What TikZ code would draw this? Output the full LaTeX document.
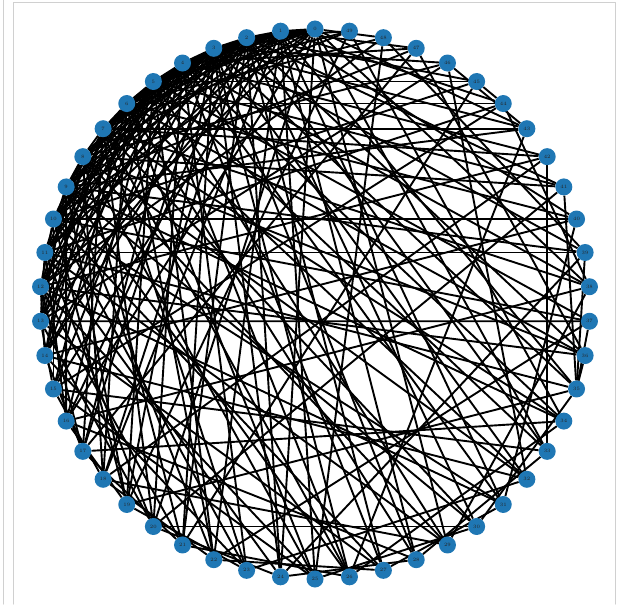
\documentclass[tikz,border=0pt]{standalone}
\usetikzlibrary{backgrounds}
\definecolor{nodeblue}{HTML}{1F77B4}
\definecolor{framegray}{HTML}{D0D0D0}
\tikzset{
  vertex/.style={circle,fill=nodeblue,draw=none,inner sep=0pt,minimum size=17pt,
    font=\fontsize{5}{5}\selectfont,text=black!85},
  edge/.style={line width=1.9pt,black},
  frameline/.style={line width=1pt,framegray}
}
\begin{document}
\begin{tikzpicture}[x=1pt,y=-1pt,line cap=round,line join=round]
  \useasboundingbox (0,0) rectangle (617,604);
  % Rahmen
  \draw[frameline] (3,0) -- (3,604);
  \draw[frameline] (13.5,604) -- (13.5,3) -- (615,3) -- (615,604);
  % Knoten auf dem Kreis
  \foreach \k in {0,...,49}
    \node[vertex] (n\k) at ({315+275*cos(90+7.2*\k)},{304-275*sin(90+7.2*\k)}) {\k};
  % Kanten
  \begin{scope}[on background layer]
    \foreach \a/\b in {0/1,0/2,0/3,0/4,0/5,1/2,1/3,1/4,1/5,2/3,2/4,2/5,3/4,3/5,4/5,
      6/0,6/1,6/2,6/3,6/4,6/5, 7/1,7/2,7/3,7/4,7/5,7/6, 8/0,8/2,8/3,8/4,8/5,8/7,
      9/1,9/2,9/3,9/4,9/6,9/8, 10/0,10/2,10/3,10/4,10/6,10/8, 11/1,11/2,11/4,11/5,11/7,11/9,
      12/0,12/3,12/5,12/6,12/8,12/10, 13/1,13/4,13/5,13/7,13/9,13/11, 14/2,14/3,14/5,14/7,14/8,14/12,
      15/1,15/4,15/6,15/10,15/13, 16/0,16/2,16/5,16/9,16/11, 17/3,17/4,17/7,17/12,17/14,
      18/1,18/2,18/6,18/8,18/15, 19/3,19/5,19/9,19/10,19/16, 20/0,20/4,20/7,20/11,20/13,
      21/2,21/3,21/8,21/12,21/17, 22/1,22/5,22/6,22/9,22/18, 23/4,23/7,23/10,23/14,23/19,
      24/0,24/2,24/3,24/11,24/20, 25/1,25/6,25/8,25/12,25/15, 26/3,26/5,26/7,26/9,26/21,
      27/2,27/4,27/10,27/13,27/22, 28/1,28/3,28/6,28/16,28/24, 29/0,29/5,29/8,29/11,29/18,
      30/2,30/7,30/9,30/20,30/25, 31/1,31/4,31/10,31/12,31/27, 32/3,32/6,32/8,32/14,32/23,
      33/0,33/2,33/5,33/15,33/28, 34/4,34/7,34/9,34/17,34/26, 35/1,35/3,35/11,35/19,35/30,
      36/2,36/6,36/8,36/12,36/35, 37/5,37/10,37/13,37/22,37/35, 38/0,38/4,38/7,38/16,38/29,
      39/3,39/9,39/11,39/24,39/35, 40/1,40/6,40/10,40/14,40/31, 41/2,41/5,41/8,41/20,41/35,
      42/4,42/7,42/12,42/18,42/33, 43/0,43/3,43/7,43/9,43/26, 44/1,44/6,44/11,44/15,44/38,
      45/2,45/5,45/10,45/21,45/44, 46/3,46/8,46/13,46/32,46/43, 47/1,47/4,47/9,47/17,47/36,
      48/0,48/6,48/12,48/25,48/39, 49/2,49/5,49/7,49/19,49/34}
      \draw[edge] (n\a) -- (n\b);
  \end{scope}
\end{tikzpicture}
\end{document}
